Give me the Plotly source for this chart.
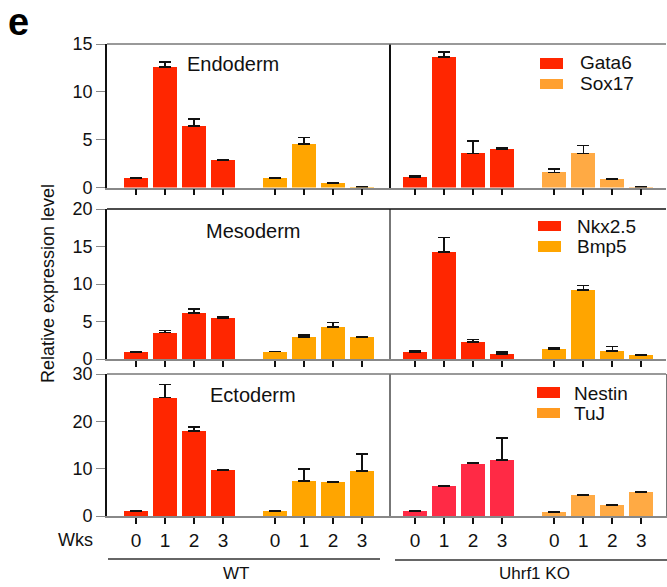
import plotly.graph_objects as go

W, H = 667, 587

weeks = ["0", "1", "2", "3"]
group_labels = ["WT", "Uhrf1 KO"]
panel_titles = ["Endoderm", "Mesoderm", "Ectoderm"]
genes = [["Gata6", "Sox17"], ["Nkx2.5", "Bmp5"], ["Nestin", "TuJ"]]
y_max = [15, 20, 30]
y_ticks = [[0, 5, 10, 15], [0, 5, 10, 15, 20], [0, 10, 20, 30]]

# Endoderm
endo_wt_gata6 = [0.97, 12.6, 6.44, 2.89]
endo_wt_gata6_sd = [0.03, 0.55, 0.70, 0.04]
endo_wt_sox17 = [0.97, 4.56, 0.42, 0.03]
endo_wt_sox17_sd = [0.02, 0.66, 0.04, 0.0]
endo_ko_gata6 = [1.05, 13.64, 3.57, 3.99]
endo_ko_gata6_sd = [0.14, 0.52, 1.29, 0.14]
endo_ko_sox17 = [1.57, 3.57, 0.84, 0.03]
endo_ko_sox17_sd = [0.35, 0.80, 0.10, 0.0]
# Mesoderm
meso_wt_nkx = [0.93, 3.51, 6.13, 5.47]
meso_wt_nkx_sd = [0.09, 0.31, 0.54, 0.22]
meso_wt_bmp5 = [0.98, 2.93, 4.27, 2.93]
meso_wt_bmp5_sd = [0.0, 0.31, 0.62, 0.02]
meso_ko_nkx = [0.93, 14.27, 2.27, 0.67]
meso_ko_nkx_sd = [0.14, 1.95, 0.35, 0.26]
meso_ko_bmp5 = [1.33, 9.2, 1.07, 0.53]
meso_ko_bmp5_sd = [0.23, 0.62, 0.62, 0.0]
# Ectoderm
ecto_wt_nestin = [1.06, 25.0, 18.0, 9.74]
ecto_wt_nestin_sd = [0.0, 2.82, 0.84, 0.02]
ecto_wt_tuj = [1.06, 7.41, 7.2, 9.53]
ecto_wt_tuj_sd = [0.07, 2.54, 0.07, 3.53]
ecto_ko_nestin = [1.06, 6.35, 11.08, 11.86]
ecto_ko_nestin_sd = [0.0, 0.02, 0.07, 4.65]
ecto_ko_tuj = [0.85, 4.45, 2.33, 5.08]
ecto_ko_tuj_sd = [0.0, 0.03, 0.03, 0.03]

RED = "#FF2600"
ORANGE = "#FFA500"
LORANGE = "#FFAA44"
PINK = "#FF2A45"

panels = {
    (0, 0): [(endo_wt_gata6, endo_wt_gata6_sd, RED), (endo_wt_sox17, endo_wt_sox17_sd, ORANGE)],
    (0, 1): [(endo_ko_gata6, endo_ko_gata6_sd, RED), (endo_ko_sox17, endo_ko_sox17_sd, LORANGE)],
    (1, 0): [(meso_wt_nkx, meso_wt_nkx_sd, RED), (meso_wt_bmp5, meso_wt_bmp5_sd, ORANGE)],
    (1, 1): [(meso_ko_nkx, meso_ko_nkx_sd, RED), (meso_ko_bmp5, meso_ko_bmp5_sd, ORANGE)],
    (2, 0): [(ecto_wt_nestin, ecto_wt_nestin_sd, RED), (ecto_wt_tuj, ecto_wt_tuj_sd, ORANGE)],
    (2, 1): [(ecto_ko_nestin, ecto_ko_nestin_sd, PINK), (ecto_ko_tuj, ecto_ko_tuj_sd, LORANGE)],
}
legend_colors = [[RED, "#FFA030"], [RED, ORANGE], [RED, "#FF9A20"]]

FONT = "Arial, Liberation Sans, sans-serif"

def fx(px):
    return px / W

def fy(py):
    return 1 - py / H

col_px = [(107, 391), (391, 666)]
row_px = [(44, 187.5), (209, 359), (374, 516)]
group_gap = 4.8
x_ranges = [[-1, 8.8], [-0.83, 8.65]]
top_line_colors = ["#777777", "#111111", "#777777"]
div_colors = ["#111111", "#777777", "#777777"]

fig = go.Figure()
layout = {}
shapes = []
annotations = []

xpos = [[i for i in range(len(weeks))], [i + group_gap for i in range(len(weeks))]]

for r in range(3):
    for c in range(2):
        idx = r * 2 + c + 1
        xa = "x" if idx == 1 else f"x{idx}"
        ya = "y" if idx == 1 else f"y{idx}"
        for g, (vals, sd, color) in enumerate(panels[(r, c)]):
            fig.add_trace(go.Bar(
                x=xpos[g], y=vals, xaxis=xa, yaxis=ya,
                marker=dict(color=color, line=dict(width=0)),
                width=0.83, showlegend=False,
                error_y=dict(type="data", symmetric=False, array=sd,
                             arrayminus=[0] * len(sd), color="#111111",
                             thickness=1.6, width=6),
            ))
        ticks_all = xpos[0] + xpos[1]
        xkey = "xaxis" if idx == 1 else f"xaxis{idx}"
        ykey = "yaxis" if idx == 1 else f"yaxis{idx}"
        layout[xkey] = dict(
            domain=[fx(col_px[c][0]), fx(col_px[c][1])], anchor=ya,
            range=x_ranges[c], showgrid=False, zeroline=False, automargin=False,
            showline=True, linecolor="#888888", linewidth=1.5,
            ticks="outside", ticklen=6, tickwidth=1.6, tickcolor="#111111",
            tickvals=ticks_all,
            ticktext=weeks + weeks,
            showticklabels=(r == 2),
            ticklabelstandoff=0,
            tickfont=dict(family=FONT, size=19, color="#111111"),
        )
        ycfg = dict(
            domain=[fy(row_px[r][1]), fy(row_px[r][0])], anchor=xa,
            range=[0, y_max[r]], showgrid=False, zeroline=False, automargin=False,
            showline=True, linewidth=1.6,
            linecolor="#111111" if c == 0 else div_colors[r],
        )
        if c == 0:
            ycfg.update(ticks="outside", ticklen=9, tickwidth=1.3,
                        tickcolor="#888888", tickvals=y_ticks[r],
                        tickfont=dict(family=FONT, size=18, color="#111111"))
        else:
            ycfg.update(ticks="", showticklabels=False)
            if r == 2:
                ycfg.update(mirror=True)
        layout[ykey] = ycfg
        shapes.append(dict(type="line", xref=f"{xa} domain", yref=f"{ya} domain",
                           x0=0, x1=1, y0=1, y1=1,
                           line=dict(color=top_line_colors[r], width=1.6)))

title_pos = [(233, 64), (253, 231), (253, 395)]
for t, (px, py) in zip(panel_titles, title_pos):
    annotations.append(dict(text=t, x=fx(px), y=fy(py), xref="paper", yref="paper",
                            showarrow=False, xanchor="center", yanchor="middle",
                            font=dict(family=FONT, size=20, color="#111111")))

leg_rows = [[(58, 69, 63), (79, 89, 83)], [(221, 231, 226), (241, 252, 246)],
            [(387, 398, 393), (408, 418, 413)]]
leg_sw_x = [(540, 563), (538, 561), (537, 560)]
leg_tx_x = [578, 575, 572]
for r in range(3):
    for k in range(2):
        y0, y1, yc = leg_rows[r][k]
        shapes.append(dict(type="rect", xref="paper", yref="paper",
                           x0=fx(leg_sw_x[r][0]), x1=fx(leg_sw_x[r][1]),
                           y0=fy(y1), y1=fy(y0), line=dict(width=0),
                           fillcolor=legend_colors[r][k]))
        annotations.append(dict(text=genes[r][k], x=fx(leg_tx_x[r]), y=fy(yc),
                                xref="paper", yref="paper", showarrow=False,
                                xanchor="left", yanchor="middle",
                                font=dict(family=FONT, size=19, color="#111111")))

annotations.append(dict(text="Wks", x=fx(75), y=fy(540), xref="paper", yref="paper",
                        showarrow=False, xanchor="center", yanchor="middle",
                        font=dict(family=FONT, size=18, color="#111111")))
grp_lines = [(108, 380, 559), (395, 667, 560)]
grp_text = [(236, 573), (534, 573)]
for (x0, x1, yl), lab, (tx, ty) in zip(grp_lines, group_labels, grp_text):
    shapes.append(dict(type="line", xref="paper", yref="paper",
                       x0=fx(x0), x1=fx(x1), y0=fy(yl), y1=fy(yl),
                       line=dict(color="#333333", width=1.3)))
    annotations.append(dict(text=lab, x=fx(tx), y=fy(ty), xref="paper", yref="paper",
                            showarrow=False, xanchor="center", yanchor="middle",
                            font=dict(family=FONT, size=17, color="#111111")))

annotations.append(dict(text="Relative expression level", x=fx(48), y=fy(283),
                        xref="paper", yref="paper", showarrow=False, textangle=-90,
                        xanchor="center", yanchor="middle",
                        font=dict(family=FONT, size=18, color="#111111")))
annotations.append(dict(text="<b>e</b>", x=fx(18), y=fy(22), xref="paper", yref="paper",
                        showarrow=False, xanchor="center", yanchor="middle",
                        font=dict(family=FONT, size=38, color="#000000")))

fig.update_layout(
    width=W, height=H, margin=dict(l=0, r=0, t=0, b=0),
    paper_bgcolor="white", plot_bgcolor="white",
    barmode="overlay", bargap=0, showlegend=False,
    shapes=shapes, annotations=annotations, **layout,
)

fig.write_html(
    "out.html",
    config={"displayModeBar": False},
    post_script="document.body.style.margin='0';document.body.style.overflow='hidden';",
)
